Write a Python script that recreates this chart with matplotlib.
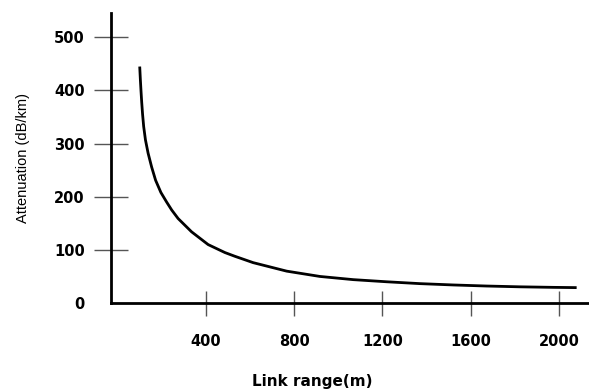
import matplotlib.pyplot as plt

# values
link_range = [100, 103, 106, 109, 113, 118, 126, 138, 154, 172, 196, 222, 245, 274, 335,
              410, 486, 531, 614, 766, 917, 1068, 1219, 1370, 1521, 1672, 1823, 1974, 2080]
attenuation = [445, 420, 398, 378, 355, 332, 307, 282, 256, 231, 208, 190, 175, 159, 134,
               110, 95, 88, 76, 60, 50, 44, 40, 36.5, 34, 32, 30.5, 29.5, 29]
x_ticks = [400, 800, 1200, 1600, 2000]
y_ticks = [0, 100, 200, 300, 400, 500]

fig = plt.figure(figsize=(5.89, 3.90), dpi=100)
ax = fig.add_axes([0.1885, 0.223, 0.8115, 0.744])

ax.plot(link_range, attenuation, color='black', lw=2.0, solid_capstyle='butt',
        solid_joinstyle='round')

ax.set_xlim(-30, 2136)
ax.set_ylim(0, 546)
ax.set_xticks(x_ticks)
ax.set_yticks(y_ticks)
ax.set_xticklabels([str(v) for v in x_ticks], fontsize=10.5, fontweight='bold')
ax.set_yticklabels([str(v) for v in y_ticks], fontsize=10.5, fontweight='bold')

for s in ['top', 'right']:
    ax.spines[s].set_visible(False)
for s in ['left', 'bottom']:
    ax.spines[s].set_linewidth(2)
    ax.spines[s].set_color('black')

ax.tick_params(axis='x', direction='inout', length=18, width=1, color='#555555', pad=13)
ax.tick_params(axis='y', direction='inout', length=24, width=1, color='#555555', pad=7)
# the zero tick has a label but no mark
ax.yaxis.get_major_ticks()[0].tick1line.set_visible(False)

ax.set_xlabel('Link range(m)', fontsize=11, fontweight='bold', va='center')
ax.xaxis.set_label_coords(0.42, -0.271)
ax.set_ylabel('Attenuation (dB/km)', family=['Liberation Sans', 'DejaVu Sans'], fontsize=10.5)
ax.yaxis.label.set_va('center')
ax.yaxis.set_label_coords(-0.184, 0.5)

fig.savefig('out.png', dpi=100)
